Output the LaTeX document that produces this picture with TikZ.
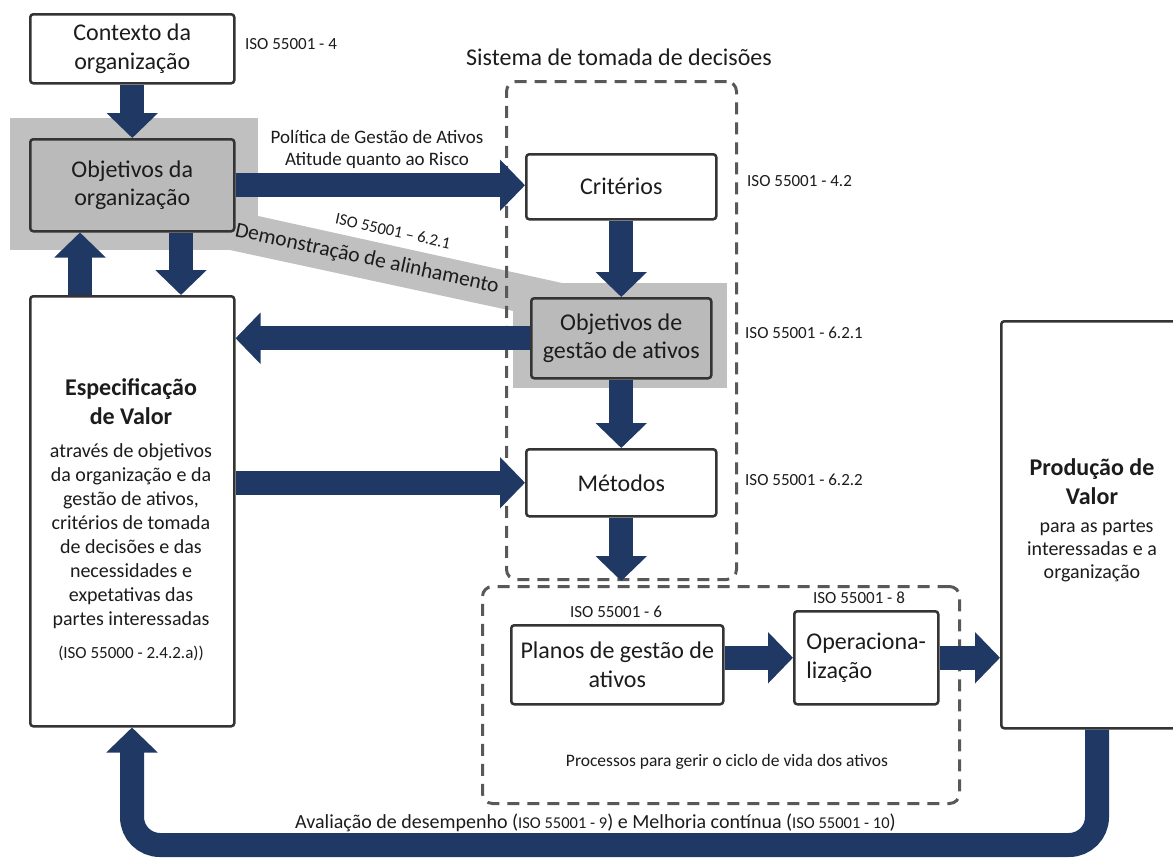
\documentclass[tikz,border=0pt]{standalone}
\usepackage{fontspec}
\setmainfont{Carlito}
\usetikzlibrary{arrows.meta,calc}
\definecolor{navy}{RGB}{31,56,100}
\definecolor{hl}{RGB}{192,192,192}
\definecolor{boxfill}{RGB}{186,186,186}
\definecolor{edge}{RGB}{52,52,52}
\definecolor{dashc}{RGB}{88,88,88}
\definecolor{ink}{RGB}{28,28,28}
\newcommand{\fsz}[2]{\fontsize{#1}{#2}\selectfont}
\begin{document}
\begin{tikzpicture}[x=1pt,y=-1pt,
  box/.style={draw=edge, line width=2.5pt, rounded corners=3pt, fill=white,
    inner sep=0pt, anchor=north west, align=center, text=ink, font={\fsz{24}{28.5}}},
  graybox/.style={box, fill=boxfill},
  dbox/.style={draw=dashc, line width=3pt, dash pattern=on 12pt off 8pt,
    rounded corners=10pt, inner sep=0pt, anchor=north west},
  fat/.style={draw=navy, line width=24pt, line cap=butt,
    -{Triangle[width=50pt,length=25pt]}},
  iso/.style={text=ink, inner sep=0pt, font={\fsz{17}{20}}},
  lbl/.style={text=ink, inner sep=0pt, align=center}]

\useasboundingbox (0,0) rectangle (1173,857);
\clip (0,0) rectangle (1173,857);
\fill[white] (0,0) rectangle (1173,857);

% highlight areas and the alignment band
\fill[hl] (240,212) -- (580,287) -- (580,300) -- (513,311) -- (230,250) -- cycle;
\fill[hl] (10,118) rectangle (258,250);
\fill[hl] (513,283) rectangle (727,388);

% decision system and life-cycle frames
\node[dbox, minimum width=230pt, minimum height=498pt] (dec) at (505,80) {};
\node[dbox, minimum width=477pt, minimum height=217pt] (life) at (481,585) {};

% boxes
\node[box, minimum width=204pt, minimum height=69pt] (ctx) at (29,13) {Contexto da\\organização};
\node[graybox, minimum width=204pt, minimum height=92pt] (org) at (29,138) {Objetivos da\\organização};
\node[box, minimum width=190pt, minimum height=65pt] (crit) at (525,153) {Critérios};
\node[graybox, minimum width=180pt, minimum height=80pt] (og) at (530,297) {Objetivos de\\gestão de ativos};
\node[box, minimum width=190pt, minimum height=67pt] (met) at (525,448) {Métodos};
\node[box, minimum width=204pt, minimum height=430pt] (spec) at (29,295) {};
\node[box, minimum width=185pt, minimum height=407pt] (prod) at (1000,320) {};
\node[box, minimum width=212pt, minimum height=79pt, font={\fsz{24}{29}}] (plan) at (510,624) {Planos de gestão de\\ativos};
\node[box, minimum width=144pt, minimum height=93pt, align=left, font={\fsz{24}{29}}] (op) at (793,610) {Operaciona-\\lização};

% texts inside the tall boxes
\node[lbl, font={\bfseries\fsz{24}{29}}] (spectitle) at (131,402) {Especificação\\de Valor};
\node[lbl, font={\fsz{20}{24}}] (specbody) at (131,536) {através de objetivos\\da organização e da\\gestão de ativos,\\critérios de tomada\\de decisões e das\\necessidades e\\expetativas das\\partes interessadas};
\node[iso] (specref) at (131,653) {(ISO 55000 - 2.4.2.a))};
\node[lbl, font={\bfseries\fsz{24}{29}}] (prodtitle) at (1092,482) {Produção de\\Valor};
\node[lbl, font={\fsz{20}{23}}] (prodbody) at (1092,551) {\ \ para as partes\\interessadas e a\\organização};

% free labels
\node[iso] (r4) at (291,44) {ISO 55001 - 4};
\node[lbl, font={\fsz{24}{28}}] (sis) at (619,57) {Sistema de tomada de decisões};
\node[lbl, font={\fsz{19}{22}}] (pol) at (377,149) {Política de Gestão de Ativos\\Atitude quanto ao Risco};
\node[iso, anchor=west] (r42) at (747,181) {ISO 55001 - 4.2};
\node[iso, anchor=west] (r621) at (745,333) {ISO 55001 - 6.2.1};
\node[iso, anchor=west] (r622) at (745,480) {ISO 55001 - 6.2.2};
\node[iso] (r6) at (616,612) {ISO 55001 - 6};
\node[iso] (r8) at (859,598) {ISO 55001 - 8};
\node[lbl, font={\fsz{17.5}{21}}] (proc) at (727,762) {Processos para gerir o ciclo de vida dos ativos};
\node[lbl, font={\fsz{16.5}{20}}, rotate=-12.2] (alref) at (393,231) {ISO 55001 – 6.2.1};
\node[lbl, font={\fsz{21.5}{26}}, rotate=-12.2] (al) at (367,259) {Demonstração de alinhamento};
\node[lbl, anchor=west, font={\fsz{20}{24}}] (eval) at (295,823)
  {Avaliação de desempenho ({\fsz{16.5}{20}ISO 55001 - 9}) e Melhoria contínua ({\fsz{16.5}{20}ISO 55001 - 10})};

% connectors
\draw[fat] (ctx.south) -- (org.north);
\draw[fat] (org.east) -- (org.east -| crit.west);
\draw[fat] (crit.south) -- (og.north);
\draw[fat] (og.west) -- (og.west -| spec.east);
\draw[fat] (og.south) -- (met.north);
\draw[fat] (met.west -| spec.east) -- (met.west);
\draw[fat] (met.south) -- (met.south |- dec.south);
\draw[fat] ($(org.south west)+(152,0)$) -- ($(spec.north west)+(152,0)$);
\draw[fat] ($(spec.north west)+(51,0)$) -- ($(org.south west)+(51,0)$);
\draw[fat] (op.west -| plan.east) -- (op.west);
\draw[fat] (op.east) -- (op.east -| prod.west);
\coordinate (loopR) at (1097,845);
\coordinate (loopL) at (132,845);
\draw[fat, rounded corners=28pt] ($(prod.south west)+(97,0)$) -- (loopR) -- (loopL) -- ($(spec.south west)+(103,0)$);
\end{tikzpicture}
\end{document}
